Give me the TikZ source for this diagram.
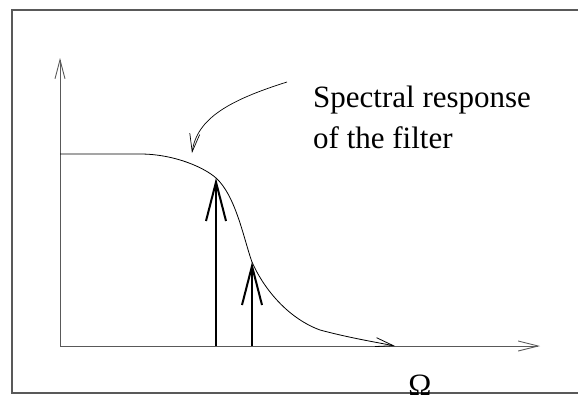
\documentclass[tikz,border=0pt]{standalone}
\usepackage{fontspec}
\setmainfont{Liberation Serif}
\usetikzlibrary{arrows.meta}
\begin{document}
\begin{tikzpicture}[x=1pt,y=-1pt,
  thinax/.style={draw=black!65,line width=0.9pt},
  thincurve/.style={draw=black,line width=0.8pt},
  thickarr/.style={draw=black,line width=2pt,-{Straight Barb[length=39pt,width=20pt,line width=2pt]}},
  lbl/.style={font=\fontsize{31}{41}\selectfont,inner sep=0pt,anchor=base west}]
\useasboundingbox (0,0) rectangle (578,394);
% frame
\draw[draw=black!65,line width=1.2pt] (578,10) -- (12,10) -- (12,393) -- (578,393);
% axes
\coordinate (O) at (60,346);
\coordinate (ytop) at (60,58);
\coordinate (xend) at (540,346);
\draw[thinax,-{Straight Barb[length=19pt,width=10pt]}] (O) -- (ytop);
\draw[thinax,-{Straight Barb[length=20pt,width=10pt]}] (O) -- (xend);
% filter curve
\coordinate (p0) at (60,154);
\coordinate (p1) at (140,154);
\coordinate (p2) at (216,178);
\coordinate (p3) at (252,262);
\coordinate (p4) at (320,330);
\coordinate (p5) at (395,346);
\draw[thincurve,-{Straight Barb[length=18pt,width=9pt]}] (p0) -- (p1)
  .. controls (175,154) and (205,168) .. (p2)
  .. controls (236,196) and (244,240) .. (p3)
  .. controls (262,285) and (285,317) .. (p4)
  .. controls (350,338) and (375,342) .. (p5);
% spectral lines
\coordinate (b1) at (216,346);
\coordinate (b2) at (252,346);
\draw[thickarr] (b1) -- (p2);
\draw[thickarr] (b2) -- (p3);
% pointer
\coordinate (q0) at (287,82);
\coordinate (q1) at (192,153);
\draw[thincurve,line width=0.7pt,-{Straight Barb[length=18pt,width=10pt]}] (q0) .. controls (230,100) and (197,118) .. (q1);
% labels
\node[lbl] (t1) at (313,107) {Spectral response};
\node[lbl] (t2) at (313,148) {of the filter};
\node[font=\fontsize{31}{36}\selectfont,inner sep=0pt,anchor=base] (om) at (420,395) {Ω};
\end{tikzpicture}
\end{document}
